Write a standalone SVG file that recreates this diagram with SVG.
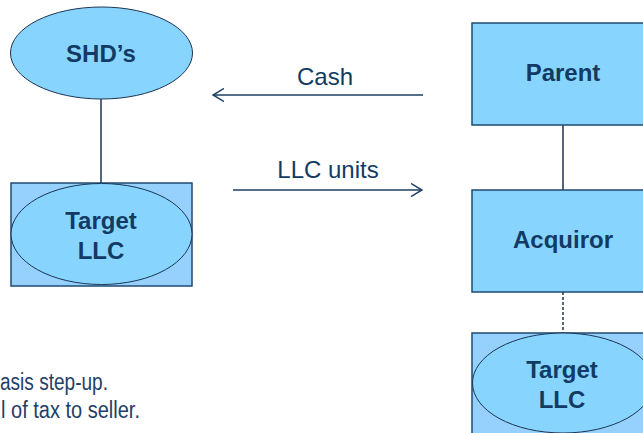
<svg xmlns="http://www.w3.org/2000/svg" width="643" height="433" viewBox="0 0 643 433">
<style>
.box{fill:#87D5FF;stroke:#1F4A74;stroke-width:1.5}
.outer{fill:#96D1FE;stroke:#1F4A74;stroke-width:1.5}
.oval{fill:#87D5FF;stroke:#1A3553;stroke-width:1}
.lbl{font-family:"Liberation Sans",Arial,sans-serif;font-weight:bold;font-size:24px;fill:#123A63;text-anchor:middle}
.flow{font-family:"Liberation Sans",Arial,sans-serif;font-size:24px;fill:#123A63;text-anchor:middle}
.note{font-family:"Liberation Sans",Arial,sans-serif;font-size:23px;fill:#1F4068}
.conn{stroke:#1C3550;stroke-width:1.5;fill:none}
.arr{stroke:#1C3F63;stroke-width:1.5;fill:none}
</style>
<defs>
<marker id="chev" viewBox="0 0 12 14" refX="11" refY="7" markerWidth="12" markerHeight="14" markerUnits="userSpaceOnUse" orient="auto">
<path d="M0,0.5 L11,7 L0,13.5" fill="none" stroke="#1C3F63" stroke-width="1.5"/>
</marker>
</defs>
<g id="connectors">
<line class="conn" x1="101" y1="99" x2="101" y2="183"/>
<line class="conn" x1="563" y1="125" x2="563" y2="190" stroke="#3E5873"/>
<line class="conn" x1="563" y1="292" x2="563" y2="333" stroke-width="1" stroke-dasharray="3,2"/>
<line class="arr" x1="423" y1="95" x2="213" y2="95" marker-end="url(#chev)"/>
<line class="arr" x1="233" y1="190" x2="422" y2="190" marker-end="url(#chev)"/>
<text class="flow" x="325" y="85">Cash</text>
<text class="flow" x="328" y="178">LLC units</text>
</g>
<g id="shds">
<ellipse class="oval" cx="101.5" cy="53" rx="91" ry="46"/>
<text class="lbl" x="101" y="62">SHD’s</text>
</g>
<g id="target-left">
<rect class="outer" x="11" y="183" width="181" height="103"/>
<ellipse class="oval" cx="101.5" cy="234" rx="90.5" ry="50.5"/>
<text class="lbl" x="101" y="229">Target</text>
<text class="lbl" x="101" y="259">LLC</text>
</g>
<g id="parent">
<rect class="box" x="472" y="23" width="182" height="102"/>
<text class="lbl" x="563" y="81">Parent</text>
</g>
<g id="acquiror">
<rect class="box" x="472" y="190" width="182" height="102"/>
<text class="lbl" x="563" y="248">Acquiror</text>
</g>
<g id="target-right">
<rect class="outer" x="472" y="333" width="182" height="103"/>
<ellipse class="oval" cx="563" cy="383" rx="90.5" ry="50"/>
<text class="lbl" x="562" y="378">Target</text>
<text class="lbl" x="562" y="408">LLC</text>
</g>
<g id="notes">
<text class="note" x="0" y="390" textLength="108" lengthAdjust="spacingAndGlyphs">asis step-up.</text>
<text class="note" x="1" y="418" textLength="139" lengthAdjust="spacingAndGlyphs">l of tax to seller.</text>
</g>
</svg>
